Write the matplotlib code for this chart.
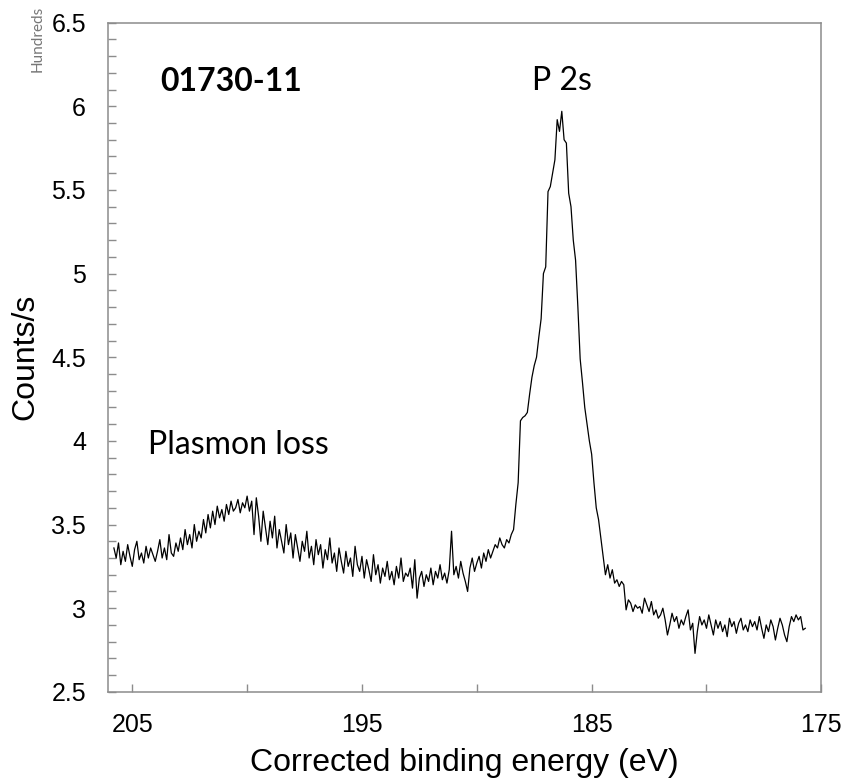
import numpy as np
import matplotlib
matplotlib.use("Agg")
import matplotlib.pyplot as plt
from matplotlib.ticker import MultipleLocator, FixedLocator

# binding energy grid (eV), 0.1 eV steps from 205.8 down to 175.7
e_start, e_step, n_pts = 205.8, 0.1, 302
energy = np.round(e_start - e_step * np.arange(n_pts), 1)

# counts/s (hundreds)
tail = [3.36, 3.30, 3.39, 3.26, 3.34, 3.28, 3.38, 3.31, 3.25,
        3.35, 3.40, 3.29, 3.33, 3.27, 3.37, 3.30, 3.36, 3.32, 3.28,
        3.34, 3.41, 3.30, 3.36, 3.29, 3.44, 3.33, 3.31, 3.39, 3.34,
        3.42, 3.35, 3.47, 3.38, 3.44, 3.36, 3.50, 3.40, 3.46, 3.42]
plasmon = [3.53, 3.45, 3.56, 3.48, 3.58, 3.50, 3.61, 3.54, 3.59, 3.52,
           3.62, 3.56, 3.64, 3.58, 3.60, 3.65, 3.57, 3.63, 3.60, 3.67,
           3.58, 3.64, 3.44, 3.66, 3.55, 3.40, 3.58, 3.48, 3.38, 3.52]
decline = [3.42, 3.55, 3.36, 3.47, 3.40, 3.33, 3.50, 3.38, 3.45, 3.30,
           3.44, 3.36, 3.28, 3.40, 3.34, 3.46, 3.30, 3.37, 3.26, 3.41,
           3.32, 3.38, 3.24, 3.35, 3.29, 3.42, 3.27, 3.33, 3.22, 3.36,
           3.28, 3.21, 3.34, 3.25, 3.30, 3.19, 3.37, 3.26, 3.22, 3.31,
           3.18, 3.29, 3.23, 3.16, 3.32, 3.20, 3.26, 3.15, 3.24, 3.19]
valley = [3.28, 3.17, 3.22, 3.14, 3.25, 3.18, 3.30, 3.16, 3.21, 3.19,
          3.24, 3.12, 3.29, 3.06, 3.18, 3.22, 3.13, 3.20, 3.16, 3.24,
          3.14, 3.22, 3.18, 3.26, 3.17, 3.21, 3.15, 3.23, 3.46, 3.20,
          3.25, 3.18, 3.28, 3.21, 3.16, 3.10, 3.24, 3.30, 3.22, 3.27,
          3.31, 3.24, 3.33, 3.28, 3.35, 3.30, 3.34, 3.38, 3.36, 3.42]
p2s_peak = [3.38, 3.36, 3.41, 3.39, 3.44, 3.47, 3.62, 3.75, 4.12, 4.14,
            4.15, 4.17, 4.28, 4.38, 4.45, 4.50, 4.62, 4.73, 5.00, 5.04,
            5.49, 5.52, 5.60, 5.68, 5.92, 5.85, 5.97, 5.80, 5.78, 5.48,
            5.40, 5.20, 5.08, 4.80, 4.49, 4.35, 4.20, 4.10, 4.00, 3.92,
            3.75, 3.60, 3.53, 3.42, 3.31, 3.20, 3.26, 3.18, 3.23, 3.15]
background = [3.17, 3.13, 3.16, 3.14, 2.99, 3.05, 3.03, 2.98, 3.02, 3.00,
              3.01, 2.97, 3.06, 3.02, 2.98, 3.04, 2.96, 2.99, 2.94, 2.96,
              3.00, 2.93, 2.84, 2.90, 2.97, 2.92, 2.95, 2.88, 2.93, 2.90,
              2.95, 2.99, 2.87, 2.91, 2.73, 2.86, 2.95, 2.90, 2.93, 2.88,
              2.96, 2.90, 2.84, 2.93, 2.88, 2.92, 2.86, 2.90, 2.83, 2.94,
              2.89, 2.92, 2.85, 2.91, 2.94, 2.87, 2.90, 2.86, 2.93, 2.89,
              2.92, 2.87, 2.95, 2.88, 2.82, 2.90, 2.86, 2.93, 2.89, 2.81,
              2.88, 2.94, 2.90, 2.84, 2.80, 2.89, 2.95, 2.92, 2.96, 2.93,
              2.95, 2.87, 2.88]
counts = np.array(tail + plasmon + decline + valley + p2s_peak + background)

x_ticks = [205, 195, 185, 175]
grey = "#8c8c8c"
label_font = ["Liberation Sans", "DejaVu Sans"]
note_font = ["Lato", "DejaVu Sans"]

fig = plt.figure(figsize=(8.45, 7.8), dpi=100)
ax = fig.add_axes([0.128, 0.113, 0.844, 0.858])
ax.plot(energy[:len(counts)], counts, color="black", linewidth=0.9)

ax.set_xlim(206.05, 175)
ax.set_ylim(2.5, 6.5)
ax.xaxis.set_major_locator(FixedLocator(x_ticks))
ax.xaxis.set_minor_locator(MultipleLocator(5))
ax.yaxis.set_major_locator(MultipleLocator(0.5))
ax.yaxis.set_minor_locator(MultipleLocator(0.1))
ax.yaxis.set_major_formatter(plt.FuncFormatter(lambda v, p: f"{v:g}"))

for spine in ax.spines.values():
    spine.set_color(grey)
    spine.set_linewidth(1.1)
ax.tick_params(axis="both", which="both", direction="in", length=6,
               width=1.0, color=grey)
ax.tick_params(axis="x", which="major", pad=15, labelsize=18)
ax.tick_params(axis="y", which="major", pad=16, labelsize=18)
for lab in ax.get_xticklabels() + ax.get_yticklabels():
    lab.set_family(label_font)

ax.set_xlabel("Corrected binding energy (eV)", fontsize=23,
              family=label_font, labelpad=8)
ax.set_ylabel("Counts/s", fontsize=23, family=label_font, labelpad=8)

ax.text(203.8, 6.09, "01730-11", fontsize=23, fontweight="bold",
        family=note_font)
ax.text(186.3, 6.10, "P 2s", fontsize=23, family=note_font, ha="center")
ax.text(204.3, 3.92, "Plasmon loss", fontsize=23, family=note_font)
fig.text(0.045, 0.95, "Hundreds", fontsize=11, color="#777777",
         family=note_font, rotation=90, ha="center", va="center")

fig.savefig("out.png", dpi=100)
